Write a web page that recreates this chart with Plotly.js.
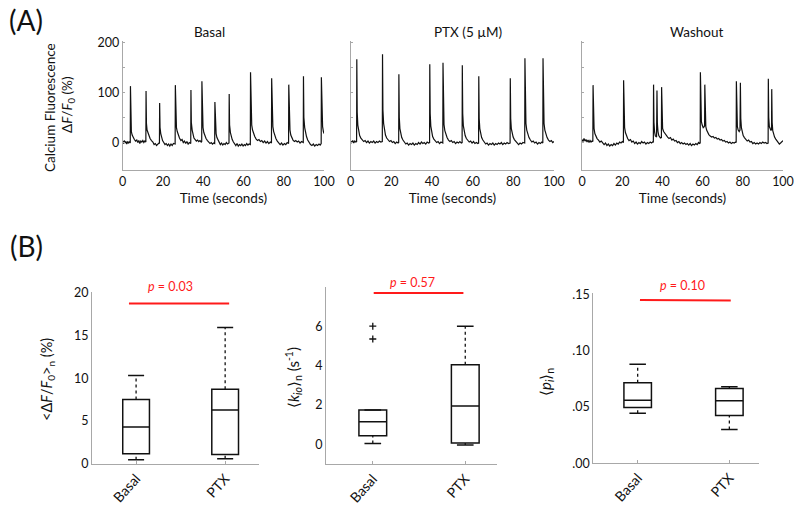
<!DOCTYPE html>
<html><head><meta charset="utf-8">
<script src="https://cdn.plot.ly/plotly-3.0.1.min.js"></script>
<style>html,body{margin:0;padding:0;background:#fff}#chart{width:800px;height:515px}</style>
</head><body><div id="chart"></div>
<script>
// ---------- DATA ----------
const panelTitles = ['Basal', 'PTX (5 \u00b5M)', 'Washout'];
const categories = ['Basal', 'PTX'];

// Calcium traces [time (s), dF/F0 (%)]
const basalTrace = [
[0,3],[0.4,-2],[0.8,4],[1.2,0],[1.6,2],[2.0,-3],[2.4,1],[2.8,-1],[3.2,2],[3.6,-1],
[3.75,0],[3.85,113],[4.05,40],[4.3,22],[4.7,15],[5.2,10],[5.8,6],[6.4,3],[7,5],[7.5,0],[8,4],[8.5,-2],[9,3],[9.5,1],[10,4],[10.5,0],[11,3],[11.5,1],
[11.6,103],[11.8,38],[12.1,25],[12.5,20],[13.0,13],[13.6,8],[14.3,4],[15,1],[15.6,-4],[16.2,-2],[16.8,-6],[17.4,-3],[18,-1],[18.25,-2],
[18.35,79],[18.55,30],[18.9,18],[19.3,10],[19.8,4],[20.4,0],[21,-4],[21.6,-2],[22.2,-6],[22.8,-3],[23.4,-7],[24,-3],[24.6,-6],[25.2,-2],[25.8,-4],[26.05,-3],
[26.15,115],[26.35,45],[26.7,30],[27.1,22],[27.6,15],[28.2,9],[28.9,4],[29.5,6],[30.1,0],[30.7,3],[31.3,-2],[31.9,2],[32.5,-3],[33.1,0],[33.8,-2],
[33.9,105],[34.1,40],[34.5,25],[34.9,15],[35.4,9],[36,6],[36.6,3],[37.2,5],[37.8,2],[38.4,4],[39,1],[39.25,2],
[39.35,123],[39.55,48],[39.9,30],[40.3,20],[40.8,13],[41.4,8],[42.1,4],[42.8,1],[43.4,-2],[44,0],[44.6,-3],[45.2,-1],[45.7,-2],
[45.8,81],[46.0,30],[46.4,18],[46.8,10],[47.3,5],[47.9,0],[48.5,-4],[49.1,-1],[49.7,-5],[50.3,-2],[50.9,-4],[51.5,0],[52.1,-3],[52.8,-1],
[52.9,97],[53.1,35],[53.5,20],[53.9,12],[54.4,6],[55,1],[55.6,-3],[56.2,-6],[56.8,-2],[57.4,-7],[58,-4],[58.6,-6],[59.2,-3],[59.8,-7],[60.4,-4],[61,-6],[61.6,-2],[62.2,-5],[62.8,-3],[63.4,-4],
[63.5,141],[63.7,55],[64.1,35],[64.5,25],[65,18],[65.6,12],[66.3,7],[67,4],[67.7,6],[68.4,2],[69.1,4],[69.8,0],[70.5,3],[71.2,-1],[71.9,2],[72.6,-2],[73.3,1],[73.9,-1],
[74.0,129],[74.2,50],[74.6,32],[75,22],[75.5,14],[76.1,8],[76.8,3],[77.5,-1],[78.2,-4],[78.9,-1],[79.6,-5],[80.3,-2],[81,-4],[81.7,0],[82.4,-2],
[82.5,116],[82.7,42],[83.1,25],[83.5,15],[84,9],[84.6,5],[85.3,2],[86,4],[86.7,1],[87.4,3],[88.1,-1],[88.8,2],[89.7,0],
[89.8,133],[90.0,50],[90.4,30],[90.8,20],[91.3,12],[91.9,5],[92.6,0],[93.3,-4],[94,-6],[94.7,-3],[95.4,-7],[96.1,-4],[96.8,-6],[97.5,-3],[98.1,-5],[98.6,-2],
[98.7,131],[98.9,50],[99.3,32],[99.7,22],[100,18]
];
const ptxTrace = [
[0,3],[0.5,0],[1,4],[1.5,-1],[2,3],[2.5,1],[2.9,2],
[3.0,167],[3.2,60],[3.5,35],[3.9,22],[4.4,14],[5,9],[5.7,5],[6.4,2],[7.1,4],[7.8,0],[8.5,3],[9.2,-1],[9.9,2],[10.6,0],[11.3,3],[12,-1],[12.7,2],[13.4,0],[14.1,3],[14.8,1],[15.55,2],
[15.65,177],[15.85,65],[16.2,38],[16.6,24],[17.1,15],[17.7,9],[18.4,5],[19.1,2],[19.8,4],[20.5,0],[21.2,2],[21.9,-2],[22.6,1],[23.3,-1],[23.6,0],
[23.7,137],[23.9,50],[24.2,28],[24.6,17],[25.1,10],[25.7,5],[26.4,1],[27.1,-3],[27.8,-1],[28.5,-5],[29.2,-2],[29.9,-4],[30.6,-1],[31.3,-5],[32,-2],[32.7,-4],[33.4,0],[34.1,-3],[34.8,1],[35.5,-2],[36.2,0],[36.9,-3],[37.6,1],[38.3,-1],[38.8,0],
[38.9,157],[39.1,58],[39.4,33],[39.8,20],[40.3,12],[40.9,7],[41.6,3],[42.3,0],[43,2],[43.7,-2],[44.4,1],[45.3,-1],
[45.4,160],[45.6,60],[45.9,36],[46.3,24],[46.8,16],[47.4,10],[48.1,5],[48.8,2],[49.5,4],[50.2,0],[50.9,2],[51.6,-2],[52.3,1],[53,-1],[53.7,2],[54.4,-1],[54.8,0],
[54.9,155],[55.1,58],[55.4,34],[55.8,22],[56.3,14],[56.9,8],[57.6,4],[58.3,1],[59,3],[59.7,-1],[60.4,2],[61.1,-2],[61.8,0],[62.5,-2],[62.9,-1],
[63.0,133],[63.2,48],[63.5,28],[63.9,17],[64.4,10],[65,5],[65.7,1],[66.4,-3],[67.1,-1],[67.8,-5],[68.5,-2],[69.2,-4],[69.9,-1],[70.6,-5],[71.3,-2],[72,-4],[72.7,-1],[73.4,-3],[74.1,0],[74.8,-4],[75.5,-1],[76.2,-3],[76.9,0],[77.6,-2],[78.4,-1],
[78.5,129],[78.7,48],[79,28],[79.4,18],[79.9,11],[80.5,6],[81.2,2],[81.9,-1],[82.6,-4],[83.3,-1],[84,-3],[84.7,0],[85.6,-1],
[85.7,169],[85.9,62],[86.2,38],[86.6,25],[87.1,16],[87.7,10],[88.4,5],[89.1,1],[89.8,3],[90.5,-1],[91.2,1],[91.9,-3],[92.6,0],[93.3,-2],[94,1],[94.5,-1],
[94.6,169],[94.8,62],[95.1,38],[95.5,25],[96,16],[96.6,10],[97.3,5],[98,2],[98.7,4],[99.4,0],[100,2]
];
const washoutTrace = [
[0,6],[0.5,2],[1,8],[1.5,3],[2,6],[2.5,1],[3,5],[3.5,0],[4,4],[4.5,1],[5,3],[5.4,2],
[5.5,115],[5.7,45],[6,28],[6.4,18],[6.9,12],[7.5,8],[8.2,5],[8.9,1],[9.6,3],[10.3,-2],[11,-4],[11.7,-1],[12.4,-6],[13.1,-3],[13.8,-7],[14.5,-4],[15.2,-6],[15.9,-2],[16.6,-5],[17.3,-1],[18,-3],[18.7,1],[19.4,-1],[20,2],[20.6,0],
[20.7,125],[20.9,48],[21.2,30],[21.6,20],[22.1,13],[22.7,8],[23.4,4],[24.1,6],[24.8,1],[25.5,3],[26.2,-2],[26.9,1],[27.6,-3],[28.3,0],[29,-2],[29.7,2],[30.4,-1],[31.1,1],[31.8,-3],[32.5,0],[33.2,-2],[33.9,1],[34.6,-1],[35.3,2],[35.5,0],
[35.6,116],[35.8,40],[36.1,22],[36.5,13],[37.1,11],[37.3,104],[37.5,38],[37.8,22],[38.2,14],[39,9],[39.5,10],
[39.6,111],[39.8,45],[40.1,28],[40.6,22],[41.2,18],[41.9,14],[42.6,11],[43.3,8],[44,10],[44.7,5],[45.4,7],[46.1,3],[46.8,4],[47.5,0],[48.2,2],[48.9,-2],[49.6,0],[50.3,-3],[51,-1],[51.7,-4],[52.4,-2],[53.1,-5],[53.8,-2],[54.5,-6],[55.2,-3],[55.9,-5],[56.6,-2],[57.3,-4],[58,0],[58.5,-2],[58.8,-1],
[58.9,141],[59.1,60],[59.4,42],[59.8,35],[60.3,30],[60.8,32],[61.0,34],[61.1,116],[61.3,50],[61.6,32],[62,25],[62.5,20],[63.1,16],[63.8,13],[64.5,11],[65.2,12],[65.9,9],[66.6,10],[67.3,7],[68,8],[68.7,5],[69.4,6],[70.1,3],[70.8,4],[71.5,1],[72.2,2],[72.9,-1],[73.6,1],[74.3,-2],[75,0],[75.7,-1],[76.4,1],[76.7,0],
[76.8,123],[77,50],[77.3,32],[77.7,25],[78.2,22],[78.6,25],[78.8,120],[79,48],[79.3,30],[79.7,20],[80.2,14],[80.8,10],[81.5,6],[82.2,3],[82.9,5],[83.6,1],[84.3,2],[85,-2],[85.7,0],[86.4,-3],[87.1,-1],[87.8,-3],[88.5,0],[89.2,-2],[89.9,1],[90.6,-1],[91.3,0],[92,-2],[92.6,-1],
[92.7,128],[92.9,50],[93.2,32],[93.6,25],[94,24],[94.3,26],[94.4,107],[94.6,40],[94.9,24],[95.3,16],[95.8,11],[96.4,7],[97,4],[97.6,1],[98.2,-3],[98.8,-1],[99.4,2],[100,4]
];

// Box-plot statistics [Basal, PTX]
const dffLow  = [0.5, 0.6];
const dffQ1   = [1.2, 1.1];
const dffMed  = [4.3, 6.3];
const dffQ3   = [7.5, 8.7];
const dffHigh = [10.3, 15.9];

const kLow  = [0.05, -0.02];
const kQ1   = [0.45, 0.08];
const kMed  = [1.15, 1.95];
const kQ3   = [1.75, 4.05];
const kHigh = [1.75, 6.0];
const kOutliers = [6.0, 5.35]; // Basal outliers

const pLow  = [0.0445, 0.030];
const pQ1   = [0.0495, 0.0425];
const pMed  = [0.056, 0.0555];
const pQ3   = [0.0715, 0.0665];
const pHigh = [0.088, 0.068];

const pValues = ['0.03', '0.57', '0.10'];
const sigBarY = [18.7, 7.68, 0.145];

// ---------- LAYOUT HELPERS ----------
const W = 800, H = 515;
const px = x => x / W;
const py = y => 1 - y / H;
const FONT = 'Lato, "Open Sans", sans-serif';
const TXT = '#111';
const AX = '#a8a8a8';

const traces = [];
const topSeries = [basalTrace, ptxTrace, washoutTrace];
topSeries.forEach((s, i) => {
  const n = i === 0 ? '' : String(i + 1);
  traces.push({
    type: 'scatter', mode: 'lines',
    x: s.map(d => d[0]), y: s.map(d => d[1]),
    line: { color: '#111', width: 1.2 },
    xaxis: 'x' + n, yaxis: 'y' + n, hoverinfo: 'skip'
  });
});

const boxSets = [
  [dffLow, dffQ1, dffMed, dffQ3, dffHigh],
  [kLow, kQ1, kMed, kQ3, kHigh],
  [pLow, pQ1, pMed, pQ3, pHigh]
];
const pos = [1, 2];
const capHalf = 0.09;
boxSets.forEach((b, i) => {
  const [lo, q1, med, q3, hi] = b;
  const ax = String(i + 4);
  const wx = [], wy = [];
  pos.forEach((p, j) => {
    wx.push(p, p, null, p, p, null);
    wy.push(q3[j], hi[j], null, lo[j], q1[j], null);
  });
  traces.push({ type: 'scatter', mode: 'lines', x: wx, y: wy,
    line: { color: '#111', width: 1.3, dash: 'dot' }, xaxis: 'x' + ax, yaxis: 'y' + ax, hoverinfo: 'skip' });
  const cx = [], cy = [];
  pos.forEach((p, j) => {
    cx.push(p - capHalf, p + capHalf, null, p - capHalf, p + capHalf, null);
    cy.push(hi[j], hi[j], null, lo[j], lo[j], null);
  });
  traces.push({ type: 'scatter', mode: 'lines', x: cx, y: cy,
    line: { color: '#111', width: 1.5 }, xaxis: 'x' + ax, yaxis: 'y' + ax, hoverinfo: 'skip' });
  traces.push({ type: 'box', x: pos, q1: q1, median: med, q3: q3,
    lowerfence: q1, upperfence: q3, width: 0.3, whiskerwidth: 0,
    boxpoints: false, fillcolor: 'rgba(0,0,0,0)',
    line: { color: '#111', width: 1.5 }, xaxis: 'x' + ax, yaxis: 'y' + ax, hoverinfo: 'skip' });
});
traces.push({ type: 'scatter', mode: 'markers', x: kOutliers.map(() => 1), y: kOutliers,
  marker: { symbol: 'cross-thin', size: 5, line: { color: '#111', width: 1.3 } },
  xaxis: 'x5', yaxis: 'y5', hoverinfo: 'skip' });

const layout = {
  width: W, height: H, margin: { l: 0, r: 0, t: 0, b: 0 },
  paper_bgcolor: '#fff', plot_bgcolor: 'rgba(0,0,0,0)',
  showlegend: false, hovermode: false,
  font: { family: FONT, color: TXT, size: 12 },
  shapes: [], annotations: []
};

const topX = [[122.7, 324], [350.7, 554], [582, 783]];
topX.forEach((d, i) => {
  const n = i === 0 ? '' : String(i + 1);
  layout['xaxis' + n] = {
    domain: [px(d[0]), px(d[1])], range: [0, 100], anchor: 'y' + n,
    tickvals: [0, 20, 40, 60, 80, 100], ticks: '', showgrid: false, zeroline: false,
    showline: true, linecolor: AX, linewidth: 1,
    tickfont: { size: 12.5, color: TXT },
    title: { text: 'Time (seconds)', font: { size: 13.5, color: TXT }, standoff: 5 }
  };
  layout['yaxis' + n] = {
    domain: [py(170), py(40.7)], range: [-55, 204], anchor: 'x' + n,
    tickvals: [0, 100, 200], showticklabels: i === 0,
    ticks: 'inside', ticklen: 2, tickcolor: AX,
    minor: { tickvals: [50, 150], ticks: 'inside', ticklen: 2, tickcolor: AX, showgrid: false },
    showgrid: false, zeroline: false, showline: true, linecolor: AX, linewidth: 1,
    tickfont: { size: 12.5, color: TXT }
  };
});

const botX = [[92, 259], [326, 496.7], [593.3, 758.7]];
const botY = [[292.3, 464], [286.7, 464.3], [293.3, 463.3]];
const botRange = [[0, 20], [-1, 8], [0, 0.151]];
const catRange = [[0.505, 2.38], [0.494, 2.34], [0.516, 2.32]];
const yTicks = [
  { v: [0, 5, 10, 15, 20], t: ['0', '5', '10', '15', '20'] },
  { v: [0, 2, 4, 6], t: ['0', '2', '4', '6'] },
  { v: [0, 0.05, 0.10, 0.15], t: ['.00', '.05', '.10', '.15'] }
];
botX.forEach((d, i) => {
  const n = String(i + 4);
  layout['xaxis' + n] = {
    domain: [px(d[0]), px(d[1])], range: catRange[i], anchor: 'y' + n,
    tickvals: pos, ticktext: categories, tickangle: -48,
    ticks: 'inside', ticklen: 3, tickcolor: AX,
    showgrid: false, zeroline: false, showline: true, linecolor: AX, linewidth: 1,
    tickfont: { size: 14, color: TXT }
  };
  layout['yaxis' + n] = {
    domain: [py(botY[i][1]), py(botY[i][0])], range: botRange[i], anchor: 'x' + n,
    tickvals: yTicks[i].v, ticktext: yTicks[i].t, ticks: '',
    showgrid: false, zeroline: false, showline: true, linecolor: AX, linewidth: 1,
    tickfont: { size: 12.5, color: TXT }
  };
});

const sigX = [[0.92, 2.045], [1.01, 1.98], [1.025, 2.015]];
sigX.forEach((s, i) => {
  const n = String(i + 4);
  layout.shapes.push({ type: 'line', xref: 'x' + n, yref: 'y' + n,
    x0: s[0], x1: s[1], y0: sigBarY[i], y1: i === 2 ? sigBarY[i] - 0.0005 : sigBarY[i],
    line: { color: '#ff1a1a', width: 2 } });
});
const pPos = [[170, 286], [412.7, 282.7], [682, 285]];
pPos.forEach((p, i) => {
  layout.annotations.push({ xref: 'paper', yref: 'paper', x: px(p[0]), y: py(p[1]),
    xanchor: 'center', yanchor: 'middle', showarrow: false,
    text: '<i>p</i> = ' + pValues[i], font: { size: 12.5, color: '#ff1a1a' } });
});

const titlePos = [[209, 32], [468, 32], [696, 32]];
titlePos.forEach((p, i) => {
  layout.annotations.push({ xref: 'paper', yref: 'paper', x: px(p[0]), y: py(p[1]),
    xanchor: 'center', yanchor: 'middle', showarrow: false,
    text: panelTitles[i], font: { size: 13.5, color: TXT } });
});

layout.annotations.push({ xref: 'paper', yref: 'paper', x: px(26), y: py(20), xanchor: 'center', yanchor: 'middle',
  showarrow: false, text: '(A)', font: { size: 28, color: TXT } });
layout.annotations.push({ xref: 'paper', yref: 'paper', x: px(26), y: py(246), xanchor: 'center', yanchor: 'middle',
  showarrow: false, text: '(B)', font: { size: 28, color: TXT } });

const yTitles = [
  { x: 50, y: 108, t: 'Calcium Fluorescence', s: 13.5 },
  { x: 68, y: 105, t: '\u0394<i>F</i>/<i>F</i><sub>0</sub> (%)', s: 13.5 },
  { x: 47, y: 380, t: '<\u0394<i>F</i>/<i>F</i><sub>0</sub>><sub>n</sub> (%)', s: 14.5 },
  { x: 293, y: 378, t: '\u27e8<i>k</i><sub><i>io</i></sub>\u27e9<sub>n</sub> (s<sup>-1</sup>)', s: 15 },
  { x: 546, y: 382, t: '\u27e8<i>p</i><sub><i>i</i></sub>\u27e9<sub>n</sub>', s: 15 }
];
yTitles.forEach(a => {
  layout.annotations.push({ xref: 'paper', yref: 'paper', x: px(a.x), y: py(a.y),
    xanchor: 'center', yanchor: 'middle', showarrow: false, textangle: -90,
    text: a.t, font: { size: a.s, color: TXT } });
});

Plotly.newPlot('chart', traces, layout, { displayModeBar: false, staticPlot: true });
</script></body></html>
